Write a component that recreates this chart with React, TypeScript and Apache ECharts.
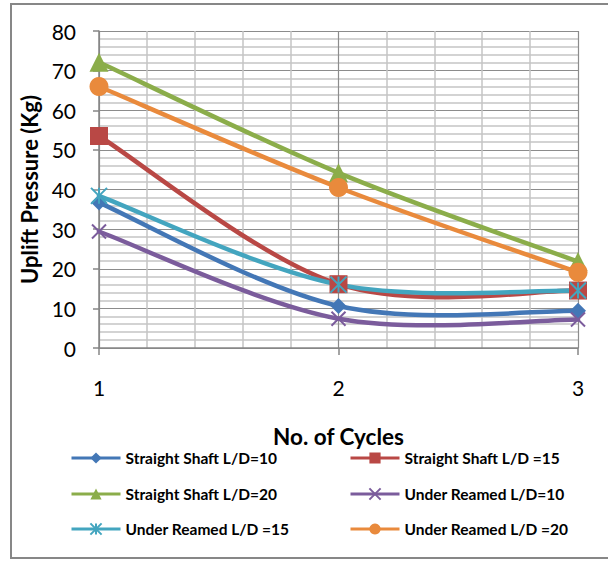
import React, { useEffect, useRef } from "react";
import * as echarts from "echarts";

const cycles = [1, 2, 3];
const seriesNames = [
  "Straight Shaft L/D=10",
  "Straight Shaft L/D =15",
  "Straight Shaft L/D=20",
  "Under Reamed L/D=10",
  "Under Reamed L/D =15",
  "Under Reamed L/D =20",
];
const ssLD10 = [36.7, 10.6, 9.4];
const ssLD15 = [53.5, 16.1, 14.5];
const ssLD20 = [72.1, 44.2, 21.8];
const urLD10 = [29.4, 7.4, 7.2];
const urLD15 = [38.4, 16.0, 14.5];
const urLD20 = [66.0, 40.5, 19.1];
const yTicks = [0, 10, 20, 30, 40, 50, 60, 70, 80];

const FONT = 'Lato, "Open Sans", sans-serif';
const colors = ["#4377b6", "#b94845", "#8bad4a", "#7b5c9c", "#43a5bf", "#e98a3c"];
const symbols = [
  "diamond",
  "rect",
  "triangle",
  "path://M0,0 L10,10 M10,0 L0,10",
  "path://M0,0 L10,10 M10,0 L0,10 M5,0 L5,10",
  "circle",
];
const symbolSizes = [16, 18, 19, 14, 16, 19];
const values = [ssLD10, ssLD15, ssLD20, urLD10, urLD15, urLD20];

export default function App() {
  const ref = useRef<HTMLDivElement>(null);
  useEffect(() => {
    document.body.style.margin = "0";
    const chart = echarts.init(ref.current!, null, { renderer: "svg" });

    // smooth (Catmull-Rom style) curves drawn through the axes' coordinates
    const curveSeries = values.map((vals, i) => ({
      name: "curve-" + i,
      type: "custom",
      z: 2,
      silent: true,
      data: cycles.map((c, j) => [c, vals[j]]),
      encode: { x: 0, y: 1 },
      renderItem: (params: any, api: any) => {
        const k = params.dataIndex;
        const n = cycles.length;
        if (k >= n - 1) return null;
        const pts = cycles.map((c, j) => api.coord([c, vals[j]]));
        const p0 = pts[Math.max(k - 1, 0)];
        const p1 = pts[k];
        const p2 = pts[k + 1];
        const p3 = pts[Math.min(k + 2, n - 1)];
        return {
          type: "bezierCurve",
          shape: {
            x1: p1[0],
            y1: p1[1],
            cpx1: p1[0] + (p2[0] - p0[0]) / 6,
            cpy1: p1[1] + (p2[1] - p0[1]) / 6,
            cpx2: p2[0] - (p3[0] - p1[0]) / 6,
            cpy2: p2[1] - (p3[1] - p1[1]) / 6,
            x2: p2[0],
            y2: p2[1],
          },
          style: { stroke: colors[i], lineWidth: 4.5, fill: "none", lineCap: "round" },
        };
      },
    }));

    const markerSeries = values.map((vals, i) => {
      const isStroke = i === 3 || i === 4;
      return {
        name: seriesNames[i],
        type: "line",
        data: cycles.map((c, j) => [c, vals[j]]),
        symbol: symbols[i],
        symbolSize: symbolSizes[i],
        lineStyle: { color: colors[i], width: 0, opacity: 0 },
        itemStyle: isStroke
          ? { color: colors[i], borderColor: colors[i], borderWidth: 2 }
          : { color: colors[i] },
        z: 3 + i,
      };
    });

    const legendPos = [
      [70, 457],
      [349, 457],
      [70, 493],
      [349, 493],
      [70, 528],
      [349, 528],
    ];
    const legends = seriesNames.map((n, i) => ({
      data: [n],
      left: legendPos[i][0],
      top: legendPos[i][1] - 7,
      itemWidth: 49,
      itemHeight: 14,
      padding: 0,
      itemGap: 0,
      lineStyle: { width: 3, color: colors[i], opacity: 1 },
      textStyle: { fontFamily: FONT, fontWeight: "bold", fontSize: 15.5, color: "#000" },
    }));

    chart.setOption({
      animation: false,
      backgroundColor: "#fff",
      grid: { left: 99, right: 30, top: 31, bottom: 213, containLabel: false },
      xAxis: {
        type: "value",
        min: 1,
        max: 3,
        interval: 1,
        name: "No. of Cycles",
        nameLocation: "middle",
        nameGap: 77,
        nameTextStyle: { fontFamily: FONT, fontWeight: "bold", fontSize: 22.5, color: "#000" },
        axisLine: { show: true, lineStyle: { color: "#868686", width: 1.5 } },
        axisTick: { show: true, length: 7, lineStyle: { color: "#868686", width: 1.5 } },
        axisLabel: { fontFamily: FONT, fontSize: 21, color: "#000", margin: 29 },
        splitLine: { show: true, lineStyle: { color: "#8c8c8c", width: 1.2 } },
        minorTick: { show: false, splitNumber: 5 },
        minorSplitLine: { show: true, lineStyle: { color: "#c4c4c4", width: 1.5 } },
      },
      yAxis: {
        type: "value",
        min: yTicks[0],
        max: yTicks[yTicks.length - 1],
        interval: 10,
        name: "Uplift Pressure (Kg)",
        nameLocation: "middle",
        nameGap: 55,
        nameTextStyle: { fontFamily: FONT, fontWeight: "bold", fontSize: 22, color: "#000" },
        axisLine: { show: true, lineStyle: { color: "#868686", width: 1.5 } },
        axisTick: { show: true, length: 6, lineStyle: { color: "#868686", width: 1.5 } },
        axisLabel: { fontFamily: FONT, fontSize: 21, color: "#000", margin: 23 },
        splitLine: { show: true, lineStyle: { color: "#8c8c8c", width: 1.2 } },
        minorTick: { show: false, splitNumber: 5 },
        minorSplitLine: { show: true, lineStyle: { color: "#c4c4c4", width: 1.5 } },
      },
      legend: legends,
      graphic: [
        {
          type: "rect",
          shape: { x: 11, y: 4, width: 620, height: 554 },
          style: { fill: "none", stroke: "#878787", lineWidth: 2 },
          silent: true,
        },
      ],
      series: [...curveSeries, ...markerSeries],
    });
    return () => chart.dispose();
  }, []);
  return <div ref={ref} style={{ width: 608, height: 561 }} />;
}
